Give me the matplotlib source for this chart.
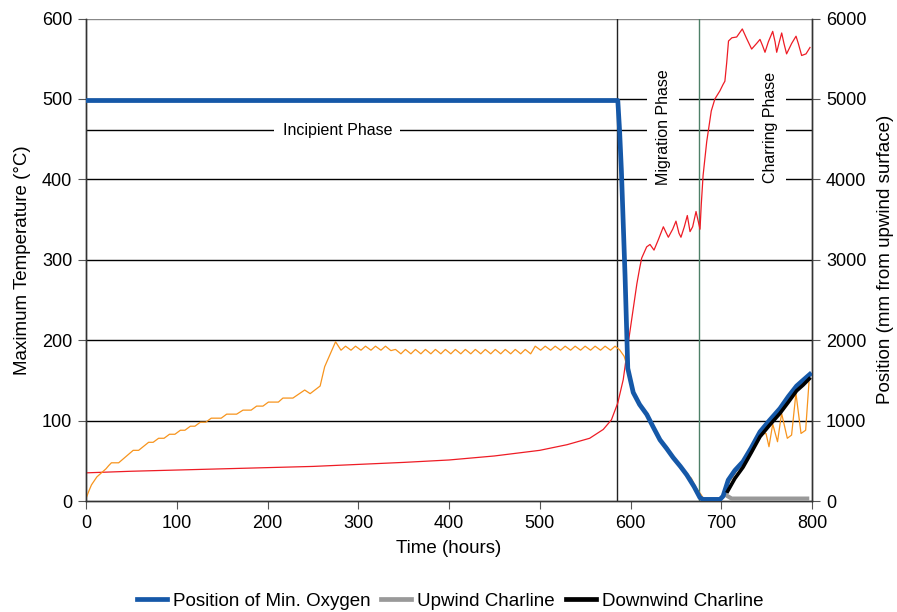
import matplotlib
matplotlib.use("Agg")
import matplotlib.pyplot as plt
from matplotlib.lines import Line2D

plt.rcParams['font.family'] = ['Liberation Sans', 'DejaVu Sans']

# ---- data ----
# Maximum temperature (left axis, °C)
temp_t = [0, 50, 100, 150, 200, 250, 300, 350, 400, 450, 500, 530, 555, 570, 579, 586,
          592, 597.6, 603, 607, 610, 612.3, 617.8, 621.5, 625.9, 630.7, 636.2, 639.1,
          641.7, 646.5, 650.1, 653.4, 655.6, 659.3, 662.6, 665.6, 668.5, 672.2, 676.6,
          678, 680, 684, 689, 693, 698.5, 702, 704, 706, 708, 711.7, 717, 723.2, 728,
          733.5, 739, 742.7, 745.6, 748.2, 751.9, 756.7, 759.3, 761.1, 764, 766.6, 769.1,
          772, 777.6, 782.4, 784.9, 788.6, 793.4, 797.8]
temp_v = [35, 37, 38.5, 40, 41.5, 43, 45.5, 48, 51, 56, 63, 70, 78, 89, 101, 122,
          151, 197, 239, 270, 289, 302, 316, 319, 312, 325, 341, 334,
          328, 338, 348, 333, 328, 341, 355, 335, 341, 360, 338,
          369, 405, 447, 485, 500, 510, 518, 522, 545, 572, 576, 577, 587, 575,
          562, 569, 574, 566, 558, 571, 584, 571, 558, 571, 582, 569,
          556, 569, 578, 569, 554, 556, 564]

# Position of max temperature (orange, right axis, mm)
maxT_t = [0, 3, 6, 12, 17, 22, 25, 28, 36, 52, 58, 69, 74, 80, 86, 92, 98, 104, 109,
          115, 120, 126, 132, 138, 149, 155, 166, 173, 182, 188, 195, 201, 212, 217, 228,
          241, 247, 258, 263, 275,
          281, 286, 292, 297, 303, 308, 314, 319, 325, 330, 336, 341, 347, 352, 358, 363,
          369, 374, 380, 385, 391, 396, 402, 407, 413, 418, 424, 429, 435, 440, 446, 451,
          457, 462, 468, 473, 479, 484, 490, 495, 501, 506, 512, 517, 523, 528, 534, 539,
          545, 550, 556, 561, 567, 572, 578, 583, 588, 593,
          597, 603, 618, 632, 640, 647, 654, 660, 667, 672, 678, 682, 698, 702, 708, 716,
          724, 733, 742, 749.3, 752.6, 756.7, 762, 766.5, 772.8, 777.5, 782.3, 787.9, 793,
          796.7]
maxT_v = [30, 120, 200, 300, 350, 400, 440, 475, 475, 630, 630, 730, 730, 780, 780, 830,
          830, 880, 880, 930, 930, 980, 980, 1030, 1030, 1080, 1080, 1130, 1130, 1180,
          1180, 1230, 1230, 1280, 1280, 1380, 1335, 1430, 1670, 1980,
          1875, 1925, 1875, 1925, 1875, 1925, 1875, 1925, 1875, 1925, 1870, 1885, 1830,
          1885, 1830, 1885, 1830, 1885, 1830, 1885, 1830, 1885, 1830, 1885, 1830, 1885,
          1830, 1885, 1830, 1885, 1830, 1885, 1830, 1885, 1830, 1885, 1830, 1885, 1830,
          1925, 1875, 1925, 1875, 1925, 1875, 1925, 1875, 1925, 1875, 1925, 1875, 1925,
          1875, 1925, 1875, 1925, 1880, 1800,
          1650, 1350, 1075, 760, 680, 540, 425, 340, 285, 170, 75, 0, 0, 40, 220, 360,
          490, 660, 830, 840, 675, 957, 737, 1090, 780, 820, 1340, 840, 880, 1480]

# Position of minimum oxygen (blue, mm)
oxy_t = [0, 586, 588, 590, 594, 597, 603, 610, 618, 625, 632.5, 640, 647, 655, 662,
         670, 676.6, 680, 698.6, 702, 707.7, 715, 724, 733, 742.7, 753, 764.7, 774, 783,
         790, 797.6]
oxy_v = [4980, 4980, 4600, 4100, 2800, 1650, 1350, 1200, 1075, 920, 760, 650, 540, 430,
         325, 180, 40, 20, 20, 60, 260, 380, 490, 660, 860, 1000, 1150, 1300, 1430, 1500,
         1575]

# Upwind charline (grey, mm)
up_t = [703, 707, 711.5, 797]
up_v = [90, 60, 30, 30]

# Downwind charline (black, mm)
down_t = [707, 715, 724, 733, 742.7, 753, 764.7, 774, 783, 790, 797]
down_v = [120, 280, 420, 600, 800, 940, 1090, 1230, 1370, 1440, 1520]

phase_names = ["Incipient Phase", "Migration Phase", "Charring Phase"]
legend_labels = ["Position of Min. Oxygen", "Upwind Charline", "Downwind Charline"]

# ---- figure ----
fig = plt.figure(figsize=(8.97, 6.12), dpi=100)
ax = fig.add_axes([86/897, 1 - 501/612, (812-86)/897, (501-18.5)/612])
ax2 = ax.twinx()

ax.set_xlim(0, 800)
ax.set_ylim(0, 600)
ax2.set_ylim(0, 6000)

# gridlines
for y in [100, 200, 300, 400, 500]:
    ax.axhline(y, color='black', lw=1.0, zorder=1)
ax.axhline(600, color='#888888', lw=1.0, zorder=1)
ax.axhline(461, color='black', lw=1.0, zorder=1)

ax.axvline(585, color='#222222', lw=1.0, zorder=1)
ax.axvline(675, color='#4e8068', lw=1.0, zorder=1)

txt_kw = dict(fontsize=11.5, ha='center', va='center', zorder=2,
              bbox=dict(facecolor='white', edgecolor='none', pad=6))
ax.text(277, 461, phase_names[0], **txt_kw)
ax.text(636, 465, phase_names[1], rotation=90, **txt_kw)
ax.text(754, 465, phase_names[2], rotation=90, **txt_kw)

ax.plot(temp_t, temp_v, color='#ee1c25', lw=0.9, zorder=3)

ax2.plot(maxT_t, maxT_v, color='#f7941d', lw=0.9, zorder=2)
ax2.plot(up_t, up_v, color='#999999', lw=3.0, zorder=3, solid_capstyle='butt')
ax2.plot(oxy_t, oxy_v, color='#1558a8', lw=3.4, zorder=4)
ax2.plot(down_t, down_v, color='black', lw=2.6, zorder=5)

for a in (ax, ax2):
    for s in a.spines.values():
        s.set_color('#333333')
        s.set_linewidth(1.0)
    a.spines['top'].set_visible(False)
ax.patch.set_visible(False)

ax.set_xticks(range(0, 801, 100))
ax.set_yticks(range(0, 601, 100))
ax2.set_yticks(range(0, 6001, 1000))
ax.tick_params(axis='both', labelsize=13, direction='out', length=6, color='#555555', pad=4)
ax2.tick_params(axis='y', labelsize=13, direction='out', length=6, color='#555555', pad=4)

ax.set_xlabel("Time (hours)", fontsize=13.5, labelpad=6)
ax.set_ylabel("Maximum Temperature (°C)", fontsize=13.5, labelpad=8)
ax2.set_ylabel("Position (mm from upwind surface)", fontsize=13.5, labelpad=8, rotation=90)

handles = [Line2D([], [], color='#1558a8', lw=3.4),
           Line2D([], [], color='#999999', lw=3.4),
           Line2D([], [], color='black', lw=3.4)]
fig.legend(handles, legend_labels, loc='center', bbox_to_anchor=(450/897, 1 - 601/612),
           ncol=3, frameon=False, fontsize=13.5, handlelength=1.6, handletextpad=0.3,
           columnspacing=0.6)

fig.savefig("out.png", dpi=100)
